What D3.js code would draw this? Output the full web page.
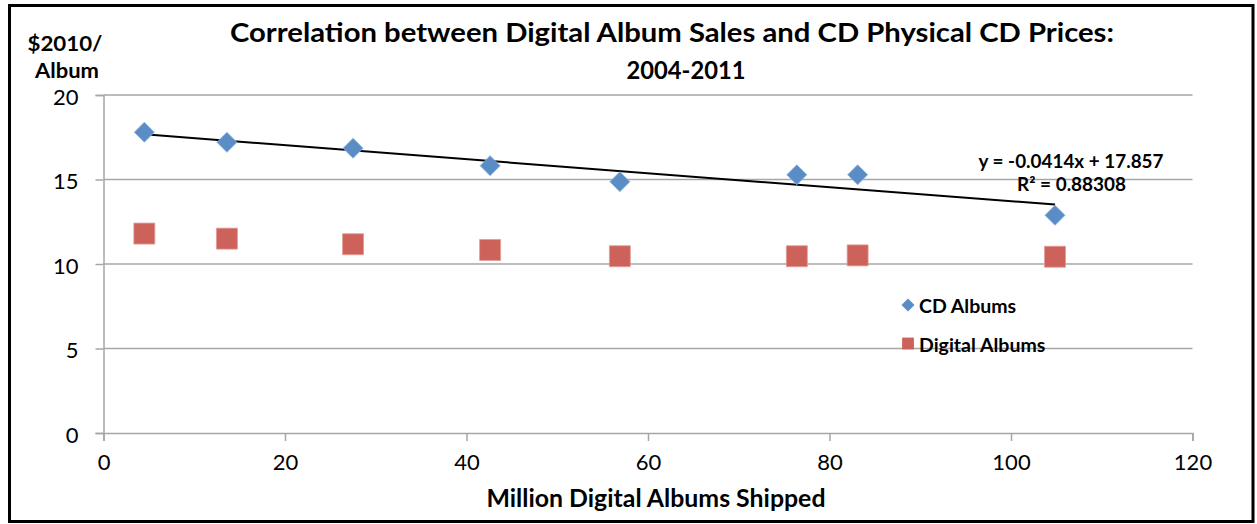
<!DOCTYPE html>
<html>
<head>
<meta charset="utf-8">
<script src="https://cdn.jsdelivr.net/npm/d3@7"></script>
<style>
  body { margin: 0; background: #fff; }
  text { font-family: Lato, "Open Sans", sans-serif; fill: #000; }
</style>
</head>
<body>
<svg id="chart" width="1257" height="524"></svg>
<script>
// data
var digitalShipped = [4.5, 13.6, 27.5, 42.6, 56.9, 76.4, 83.1, 104.85]; // million digital albums
var cdPrice = [17.8, 17.2, 16.85, 15.82, 14.87, 15.28, 15.28, 12.88];
var digitalPrice = [11.8, 11.5, 11.17, 10.83, 10.46, 10.46, 10.51, 10.43];
var trendCoef = [-0.0414, 17.857]; // slope, intercept
var xTicks = [0, 20, 40, 60, 80, 100, 120];
var yTicks = [0, 5, 10, 15, 20];
var seriesNames = ['CD Albums', 'Digital Albums'];

var width = 1257, height = 524;
var plotLeft = 103.5, plotRight = 1192.5, plotTop = 95, plotBottom = 433;
var gridColor = '#a6a6a6';
var blue = '#5a8dc6', red = '#cd625a';

var svg = d3.select('#chart');

// outer frame
svg.append('rect')
	.attr('x', 9.5).attr('y', 5.5).attr('width', 1243.5).attr('height', 516)
	.style('fill', '#fff').style('stroke', '#000').style('stroke-width', 3);

var x = d3.scaleLinear().domain([0, 120]).range([plotLeft, plotRight]);
var y = d3.scaleLinear().domain([0, 20]).range([plotBottom, plotTop]);

// gridlines
svg.append('g')
	.selectAll('line').data(yTicks.filter(d => d > 0)).join('line')
	.attr('x1', plotLeft).attr('x2', plotRight)
	.attr('y1', d => y(d)).attr('y2', d => y(d))
	.style('stroke', gridColor).style('stroke-width', 1.5);

// axes
var xAxis = svg.append('g').attr('transform', 'translate(0,' + plotBottom + ')')
	.call(d3.axisBottom(x).tickValues(xTicks).tickSize(8).tickPadding(13).tickFormat(d3.format('d')));
var yAxis = svg.append('g').attr('transform', 'translate(' + plotLeft + ',0)')
	.call(d3.axisLeft(y).tickValues(yTicks).tickSize(8).tickPadding(17).tickFormat(d3.format('d')));
[xAxis, yAxis].forEach(function(a) {
	a.select('.domain').style('stroke', gridColor).style('stroke-width', 1.5);
	a.selectAll('.tick line').style('stroke', gridColor).style('stroke-width', 1.5);
	a.selectAll('.tick text').style('font-size', '22px').style('font-family', 'Lato, sans-serif');
});
yAxis.selectAll('.tick text').attr('dy', '0.42em');
xAxis.selectAll('.tick text').attr('dy', '0.72em');

// trend line
var xExt = d3.extent(digitalShipped);
svg.append('line')
	.attr('x1', x(xExt[0])).attr('y1', y(trendCoef[0] * xExt[0] + trendCoef[1]))
	.attr('x2', x(xExt[1])).attr('y2', y(trendCoef[0] * xExt[1] + trendCoef[1]))
	.style('stroke', '#000').style('stroke-width', 2);

// markers
var diamond = d3.symbol().type(d3.symbolSquare).size(200);
var square = d3.symbol().type(d3.symbolSquare).size(440);

svg.append('g').selectAll('path').data(digitalShipped).join('path')
	.attr('d', square)
	.attr('transform', (d, i) => 'translate(' + x(d) + ',' + y(digitalPrice[i]) + ')')
	.style('fill', red).style('stroke', '#e39a94').style('stroke-width', 0.8);

svg.append('g').selectAll('path').data(digitalShipped).join('path')
	.attr('d', diamond)
	.attr('transform', (d, i) => 'translate(' + x(d) + ',' + y(cdPrice[i]) + ') rotate(45)')
	.style('fill', blue).style('stroke', '#8fb2da').style('stroke-width', 0.8);

// trend label
svg.append('text').attr('x', 1071).attr('y', 168).attr('text-anchor', 'middle')
	.style('font-size', '18px').style('font-weight', 'bold')
	.attr('textLength', 185).attr('lengthAdjust', 'spacingAndGlyphs')
	.text('y = -0.0414x + 17.857');
svg.append('text').attr('x', 1071.5).attr('y', 191).attr('text-anchor', 'middle')
	.style('font-size', '18px').style('font-weight', 'bold')
	.attr('textLength', 109).attr('lengthAdjust', 'spacingAndGlyphs')
	.text('R² = 0.88308');

// legend
var legend = svg.append('g').selectAll('g').data(seriesNames).join('g')
	.attr('transform', (d, i) => 'translate(908,' + (305 + i * 38.5) + ')');
legend.append('path')
	.attr('d', (d, i) => d3.symbol().type(d3.symbolSquare).size(i == 0 ? 85 : 140)())
	.attr('transform', (d, i) => i == 0 ? 'rotate(45)' : '')
	.style('fill', (d, i) => i == 0 ? blue : red);
legend.append('text')
	.attr('x', 11).attr('y', 8)
	.style('font-size', '19.5px').style('font-weight', 'bold')
	.text(d => d);

// titles
svg.append('text').attr('x', 672).attr('y', 42).attr('text-anchor', 'middle')
	.style('font-size', '26px').style('font-weight', 'bold')
	.attr('textLength', 884).attr('lengthAdjust', 'spacingAndGlyphs')
	.text('Correlation between Digital Album Sales and CD Physical CD Prices:');
svg.append('text').attr('x', 686).attr('y', 79).attr('text-anchor', 'middle')
	.style('font-size', '25px').style('font-weight', 'bold')
	.attr('textLength', 119).attr('lengthAdjust', 'spacingAndGlyphs')
	.text('2004-2011');

svg.append('text').attr('x', 65).attr('y', 51).attr('text-anchor', 'middle')
	.style('font-size', '21px').style('font-weight', 'bold')
	.attr('textLength', 75).attr('lengthAdjust', 'spacingAndGlyphs')
	.text('$2010/');
svg.append('text').attr('x', 67).attr('y', 78).attr('text-anchor', 'middle')
	.style('font-size', '20px').style('font-weight', 'bold')
	.attr('textLength', 64).attr('lengthAdjust', 'spacingAndGlyphs')
	.text('Album');

svg.append('text').attr('x', 656).attr('y', 507).attr('text-anchor', 'middle')
	.style('font-size', '24px').style('font-weight', 'bold')
	.attr('textLength', 339).attr('lengthAdjust', 'spacingAndGlyphs')
	.text('Million Digital Albums Shipped');
</script>
</body>
</html>
